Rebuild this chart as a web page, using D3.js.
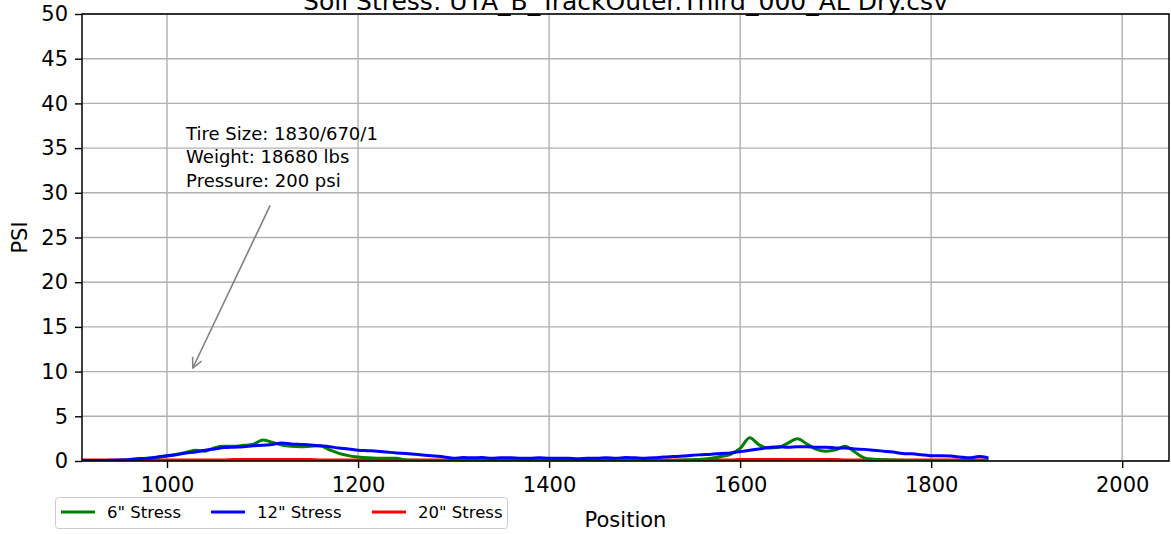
<!DOCTYPE html>
<html><head><meta charset="utf-8">
<script src="https://cdn.jsdelivr.net/npm/d3@7"></script>
<style>body{margin:0;background:#fff}svg{display:block;font-family:"DejaVu Sans",sans-serif}</style>
</head><body><svg id="c" width="1171" height="534"></svg>
<script>
const titleText = "Soil Stress: UTA_B_TrackOuter.Third_000_AL Dry.csv";
const positions = d3.range(910, 1861, 10);
const stress6 = [0.02,0.02,0.02,0.03,0.05,0.15,0.25,0.3,0.4,0.55,0.75,0.95,1.2,1.1,1.5,1.65,1.65,1.75,1.85,2.35,2.1,1.8,1.65,1.6,1.65,1.7,1.25,0.85,0.6,0.45,0.35,0.3,0.3,0.3,0.12,0.08,0.06,0.05,0.05,0.05,0.05,0.05,0.05,0.05,0.05,0.05,0.05,0.05,0.05,0.05,0.05,0.05,0.05,0.05,0.05,0.05,0.05,0.05,0.05,0.05,0.05,0.05,0.05,0.1,0.15,0.2,0.3,0.5,0.75,1.4,2.6,1.8,1.45,1.5,2.0,2.5,1.9,1.3,1.1,1.25,1.65,1.0,0.35,0.2,0.15,0.1,0.08,0.05,0.05,0.05,0.05,0.05,0.05,0.05,0.05,0.05];
const stress12 = [0.05,0.05,0.05,0.08,0.1,0.15,0.25,0.3,0.45,0.6,0.7,0.9,1.0,1.2,1.35,1.5,1.55,1.6,1.7,1.75,1.85,2.0,1.9,1.85,1.8,1.7,1.6,1.45,1.35,1.2,1.15,1.1,1.0,0.9,0.85,0.75,0.65,0.55,0.45,0.3,0.4,0.35,0.4,0.3,0.35,0.35,0.3,0.3,0.35,0.3,0.3,0.3,0.25,0.3,0.3,0.35,0.3,0.4,0.35,0.3,0.35,0.45,0.5,0.55,0.65,0.7,0.75,0.85,0.9,1.05,1.2,1.35,1.5,1.6,1.55,1.6,1.6,1.55,1.55,1.45,1.45,1.35,1.3,1.2,1.1,1.0,0.85,0.8,0.7,0.6,0.6,0.55,0.45,0.35,0.5,0.35];
const stress20 = positions.map(p => (p>=1070 && p<=1150) || (p>=1600 && p<=1700) ? 0.16 : 0.12);
const seriesNames = ['6" Stress','12" Stress','20" Stress'];
const seriesColors = ["#008000","#0000ff","#ff0000"];
const xTicks = [1000,1200,1400,1600,1800,2000];
const yTicks = [0,5,10,15,20,25,30,35,40,45,50];
const annotationLines = ["Tire Size: 1830/670/1","Weight: 18680 lbs","Pressure: 200 psi"];
const annotationText = [1020, 30];
const annotationArrowFrom = [1108, 28.6];
const annotationArrowTo = [1027, 10.4];

const svg = d3.select("#c");
const L=82, T=14, R=1169, B=461;
const x = d3.scaleLinear().domain([911,2049]).range([L,R]);
const y = d3.scaleLinear().domain([0,50]).range([B,T]);

// grid
svg.append("g").selectAll("line").data(xTicks).join("line")
  .attr("x1",d=>x(d)).attr("x2",d=>x(d)).attr("y1",T).attr("y2",B)
  .attr("stroke","#b0b0b0").attr("stroke-width",1.4);
svg.append("g").selectAll("line").data(yTicks).join("line")
  .attr("x1",L).attr("x2",R).attr("y1",d=>y(d)).attr("y2",d=>y(d))
  .attr("stroke","#b0b0b0").attr("stroke-width",1.4);

// lines
const allSeries = [stress6, stress12, stress20];
svg.append("clipPath").attr("id","clp").append("rect").attr("x",L).attr("y",T).attr("width",R-L).attr("height",B-T);
const line = d3.line().x((d,i)=>x(positions[i])).y(d=>y(d)).curve(d3.curveMonotoneX);
[2,0,1].forEach(k=>{
  svg.append("path").datum(allSeries[k]).attr("d",line).attr("fill","none")
    .attr("stroke",seriesColors[k]).attr("stroke-width",3).attr("stroke-linejoin","round")
    .attr("clip-path","url(#clp)");
});

// axes
const xa = svg.append("g").attr("transform",`translate(0,${B})`)
  .call(d3.axisBottom(x).tickValues(xTicks).tickSize(7).tickPadding(9).tickFormat(d3.format("d")));
const ya = svg.append("g").attr("transform",`translate(${L},0)`)
  .call(d3.axisLeft(y).tickValues(yTicks).tickSize(7).tickPadding(7));
[xa,ya].forEach(a=>{
  a.select(".domain").remove();
  a.selectAll("line").attr("stroke","#000").attr("stroke-width",1.4);
  a.selectAll("text").attr("fill","#000").style("font-size","21px").style("font-family","DejaVu Sans");
});
svg.append("rect").attr("x",L).attr("y",T).attr("width",R-L).attr("height",B-T)
  .attr("fill","none").attr("stroke","#000").attr("stroke-width",1.5);

// title
svg.append("text").attr("x",(L+R)/2).attr("y",10).attr("text-anchor","middle")
  .style("font-size","25px").text(titleText);
// axis labels
svg.append("text").attr("x",(L+R)/2).attr("y",527).attr("text-anchor","middle")
  .style("font-size","21px").text("Position");
svg.append("text").attr("transform",`translate(27,${(T+B)/2}) rotate(-90)`).attr("text-anchor","middle")
  .style("font-size","21px").text("PSI");

// annotation
const defs = svg.append("defs");
defs.append("marker").attr("id","ah").attr("viewBox","0 0 12 12").attr("refX",11).attr("refY",6)
  .attr("markerWidth",12).attr("markerHeight",12).attr("markerUnits","userSpaceOnUse").attr("orient","auto")
  .append("path").attr("d","M1,1 L11,6 L1,11").attr("fill","none").attr("stroke","#808080").attr("stroke-width",1.5);
svg.append("line").attr("x1",x(annotationArrowFrom[0])).attr("y1",y(annotationArrowFrom[1]))
  .attr("x2",x(annotationArrowTo[0])).attr("y2",y(annotationArrowTo[1]))
  .attr("stroke","#808080").attr("stroke-width",1.6).attr("marker-end","url(#ah)");
const at = svg.append("text").style("font-size","18px");
annotationLines.forEach((t,i)=>{
  at.append("tspan").attr("x",x(annotationText[0]))
    .attr("y",y(annotationText[1]) - 6 - (annotationLines.length-1-i)*23.5).text(t);
});

// legend
const lg = svg.append("g");
lg.append("rect").attr("x",55.5).attr("y",497.5).attr("width",452).attr("height",31).attr("rx",3)
  .attr("fill","#fff").attr("stroke","#cccccc").attr("stroke-width",1);
const lx = [61,211,372];
seriesNames.forEach((n,i)=>{
  lg.append("line").attr("x1",lx[i]).attr("x2",lx[i]+34).attr("y1",512).attr("y2",512)
    .attr("stroke",seriesColors[i]).attr("stroke-width",3);
  lg.append("text").attr("x",lx[i]+46).attr("y",518).style("font-size","16.5px").text(n);
});
</script></body></html>
